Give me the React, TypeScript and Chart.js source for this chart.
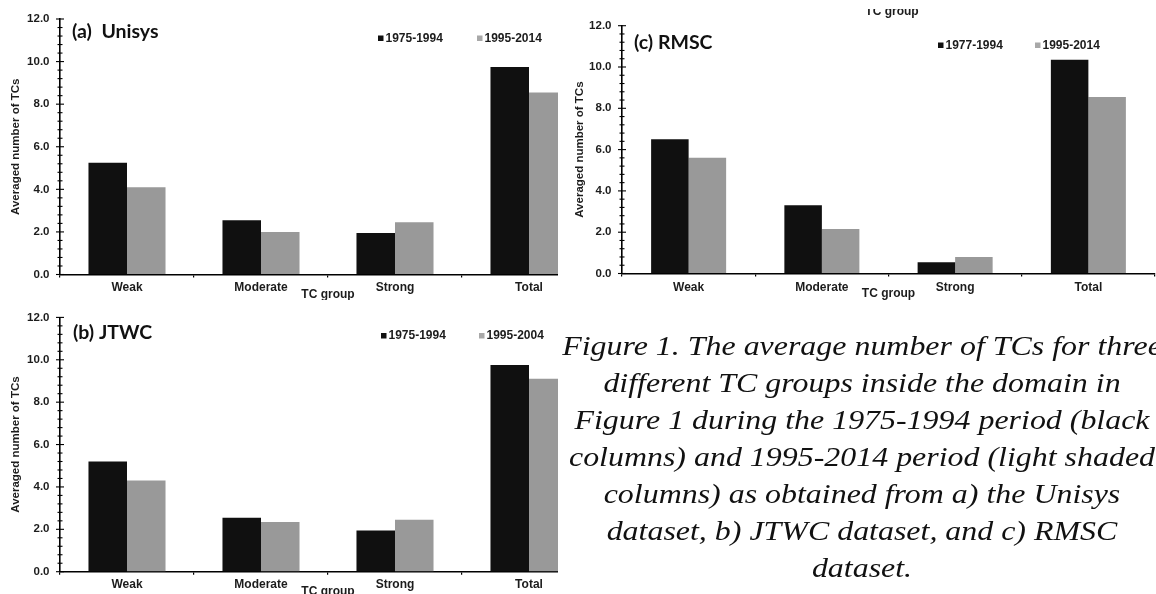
import React, { useEffect, useRef } from 'react';
import { Chart, registerables } from 'chart.js';

Chart.register(...registerables);

// ---------- data ----------
const categories = ['Weak', 'Moderate', 'Strong', 'Total'];
const yTickValues = [0, 2, 4, 6, 8, 10, 12];
const minorStep = 0.4;

const unisysPeriods = ['1975-1994', '1995-2014'];
const unisysEarly = [5.25, 2.55, 1.95, 9.75];
const unisysLate = [4.1, 2.0, 2.45, 8.55];

const jtwcPeriods = ['1975-1994', '1995-2004'];
const jtwcEarly = [5.2, 2.55, 1.95, 9.75];
const jtwcLate = [4.3, 2.35, 2.45, 9.1];

const rmscPeriods = ['1977-1994', '1995-2014'];
const rmscEarly = [6.5, 3.3, 0.55, 10.35];
const rmscLate = [5.6, 2.15, 0.8, 8.55];

const yAxisTitle = 'Averaged number of TCs';
const xAxisTitle = 'TC group';

const captionLines = [
  'Figure 1. The average number of TCs for three',
  'different TC groups inside the domain in',
  'Figure 1 during the 1975-1994 period (black',
  'columns) and 1995-2014 period (light shaded',
  'columns) as obtained from a) the Unisys',
  'dataset, b) JTWC dataset, and c) RMSC',
  'dataset.',
];

const BLACK = '#101010';
const GRAY = '#999999';
const LEGEND_GRAY = '#a8a8a8';
const TEXT = '#1c1c1c';
const SANS = '"Liberation Sans", Arial, sans-serif';

// ---------- plugin ----------
const decorPlugin = {
  id: 'decor',
  afterDraw(chart: any, _args: any, opts: any) {
    const { ctx, chartArea: ca, scales } = chart;
    const ys = scales.y;
    ctx.save();
    // crossing ticks on y axis
    ctx.strokeStyle = '#000';
    ctx.lineWidth = 1.1;
    const max = ys.max;
    const n = Math.round(max / minorStep);
    for (let i = 0; i <= n; i++) {
      const v = i * minorStep;
      const py = ys.getPixelForValue(v);
      const major = yTickValues.some((t) => Math.abs(t - v) < 1e-6);
      const len = major ? 4 : 2.5;
      ctx.beginPath();
      ctx.moveTo(ca.left - len, py);
      ctx.lineTo(ca.left + len, py);
      ctx.stroke();
    }

    ctx.fillStyle = TEXT;
    // y title
    ctx.save();
    ctx.font = `bold 11.5px ${SANS}`;
    ctx.textAlign = 'center';
    ctx.textBaseline = 'middle';
    ctx.translate(opts.yTitleX, (ca.top + ca.bottom) / 2);
    ctx.rotate(-Math.PI / 2);
    ctx.fillText(opts.yTitle, 0, 0);
    ctx.restore();

    // x title
    ctx.font = `bold 12px ${SANS}`;
    ctx.textAlign = 'center';
    ctx.textBaseline = 'middle';
    ctx.fillText(opts.xTitle, (ca.left + ca.right) / 2, ca.bottom + opts.xTitleDy);

    // panel title
    ctx.font = `bold 19.5px Lato, "Open Sans", sans-serif`;
    ctx.textAlign = 'left';
    ctx.textBaseline = 'middle';
    ctx.fillStyle = '#111';
    ctx.fillText(opts.title, opts.titleX, opts.titleY);

    // legend
    ctx.font = `bold 12px ${SANS}`;
    ctx.textBaseline = 'middle';
    chart.data.datasets.forEach((ds: any, i: number) => {
      const lx = opts.legendX[i];
      const ly = opts.legendY;
      ctx.fillStyle = ds.legendColor || ds.backgroundColor;
      ctx.fillRect(lx, ly - 3, 5.5, 5.5);
      ctx.fillStyle = TEXT;
      ctx.fillText(ds.label, lx + 7.5, ly);
    });

    // clipped remnant text
    if (opts.remnant) {
      const r = opts.remnant;
      ctx.save();
      ctx.beginPath();
      ctx.rect(0, r.clipTop, chart.width, chart.height);
      ctx.clip();
      ctx.font = `bold 12px ${SANS}`;
      ctx.textAlign = 'center';
      ctx.textBaseline = 'alphabetic';
      ctx.fillStyle = TEXT;
      ctx.fillText(r.text, r.x, r.y);
      ctx.restore();
    }
    ctx.restore();
  },
};

// ---------- panel ----------
type PanelProps = {
  title: string;
  periods: string[];
  early: number[];
  late: number[];
  left: number;
  top: number;
  boxW: number;
  boxH: number;
  canvasW: number;
  canvasH: number;
  plotLeft: number;
  plotTop: number;
  plotRight: number;
  plotBottom: number;
  catPct: number;
  titleX: number;
  titleY: number;
  legendX: number[];
  legendY: number;
  yTitleX: number;
  xTitleDy: number;
  labelPad: number;
  remnant?: { text: string; x: number; y: number; clipTop: number };
};

function Panel(p: PanelProps) {
  const ref = useRef<HTMLCanvasElement | null>(null);
  useEffect(() => {
    if (!ref.current) return;
    const chart = new Chart(ref.current, {
      type: 'bar',
      data: {
        labels: categories,
        datasets: [
          {
            label: p.periods[0],
            data: p.early,
            backgroundColor: BLACK,
            legendColor: BLACK,
            categoryPercentage: p.catPct,
            barPercentage: 1,
          } as any,
          {
            label: p.periods[1],
            data: p.late,
            backgroundColor: GRAY,
            legendColor: LEGEND_GRAY,
            categoryPercentage: p.catPct,
            barPercentage: 1,
          } as any,
        ],
      },
      options: {
        responsive: false,
        animation: false,
        devicePixelRatio: 1,
        layout: {
          padding: {
            left: 0,
            top: p.plotTop,
            right: p.canvasW - p.plotRight,
            bottom: 0,
          },
        },
        plugins: {
          legend: { display: false },
          tooltip: { enabled: false },
          decor: {
            title: p.title,
            titleX: p.titleX,
            titleY: p.titleY,
            legendX: p.legendX,
            legendY: p.legendY,
            yTitle: yAxisTitle,
            yTitleX: p.yTitleX,
            xTitle: xAxisTitle,
            xTitleDy: p.xTitleDy,
            remnant: p.remnant,
          },
        } as any,
        scales: {
          x: {
            type: 'category',
            offset: true,
            grid: {
              offset: true,
              drawOnChartArea: false,
              drawTicks: true,
              tickLength: 3,
              color: '#000',
              lineWidth: 1.2,
            },
            border: { display: true, color: '#000', width: 1.6 },
            ticks: {
              color: TEXT,
              font: { family: SANS, size: 12, weight: 'bold' },
              padding: p.labelPad,
              maxRotation: 0,
              autoSkip: false,
            },
            afterFit: (s: any) => {
              s.height = p.canvasH - p.plotBottom;
            },
          },
          y: {
            min: 0,
            max: 12,
            grid: { display: true, drawOnChartArea: false, drawTicks: false },
            border: { display: true, color: '#000', width: 1.6 },
            afterBuildTicks: (s: any) => {
              s.ticks = yTickValues.map((v) => ({ value: v }));
            },
            ticks: {
              color: TEXT,
              font: { family: SANS, size: 11.5, weight: 'bold' },
              padding: 10.5,
              callback: (v: any) => Number(v).toFixed(1),
            },
            afterFit: (s: any) => {
              s.width = p.plotLeft;
            },
          },
        },
      } as any,
      plugins: [decorPlugin as any],
    });
    return () => chart.destroy();
  }, []);
  return (
    <div
      style={{
        position: 'absolute',
        left: p.left,
        top: p.top,
        width: p.boxW,
        height: p.boxH,
        overflow: 'hidden',
      }}
    >
      <canvas
        ref={ref}
        width={p.canvasW}
        height={p.canvasH}
        style={{ display: 'block', width: p.canvasW, height: p.canvasH }}
      />
    </div>
  );
}

export default function App() {
  return (
    <div
      style={{
        position: 'absolute',
        left: 0,
        top: 0,
        width: 1156,
        height: 594,
        overflow: 'hidden',
        background: '#fff',
      }}
    >
      <Panel
        title="(a)  Unisys"
        periods={unisysPeriods}
        early={unisysEarly}
        late={unisysLate}
        left={0}
        top={0}
        boxW={558}
        boxH={300}
        canvasW={620}
        canvasH={300}
        plotLeft={60}
        plotTop={19}
        plotRight={596}
        plotBottom={274.5}
        catPct={0.575}
        titleX={72}
        titleY={32}
        legendX={[378, 477]}
        legendY={38.5}
        yTitleX={16}
        xTitleDy={20.5}
        labelPad={3}
      />
      <Panel
        title="(b) JTWC"
        periods={jtwcPeriods}
        early={jtwcEarly}
        late={jtwcLate}
        left={0}
        top={300}
        boxW={558}
        boxH={294}
        canvasW={620}
        canvasH={294}
        plotLeft={60}
        plotTop={15}
        plotRight={596}
        plotBottom={271.7}
        catPct={0.575}
        titleX={73}
        titleY={33}
        legendX={[381, 479]}
        legendY={36}
        yTitleX={16}
        xTitleDy={20.3}
        labelPad={3}
      />
      <Panel
        title="(c) RMSC"
        periods={rmscPeriods}
        early={rmscEarly}
        late={rmscLate}
        left={560}
        top={0}
        boxW={596}
        boxH={300}
        canvasW={596}
        canvasH={300}
        plotLeft={62}
        plotTop={25.7}
        plotRight={595}
        plotBottom={273.5}
        catPct={0.563}
        titleX={74}
        titleY={43}
        legendX={[378, 475]}
        legendY={45.5}
        yTitleX={20}
        xTitleDy={19.8}
        labelPad={3.5}
        remnant={{ text: xAxisTitle, x: 332, y: 14.5, clipTop: 9 }}
      />
      <div
        style={{
          position: 'absolute',
          left: 512,
          top: 327,
          width: 700,
          textAlign: 'center',
          fontFamily: '"Liberation Serif", "Times New Roman", serif',
          fontStyle: 'italic',
          fontSize: 28,
          lineHeight: '37px',
          color: '#111',
          whiteSpace: 'nowrap',
          transform: 'scaleX(1.14)',
          transformOrigin: '350px 0px',
        }}
      >
        {captionLines.map((l, i) => (
          <div key={i}>{l}</div>
        ))}
      </div>
    </div>
  );
}
